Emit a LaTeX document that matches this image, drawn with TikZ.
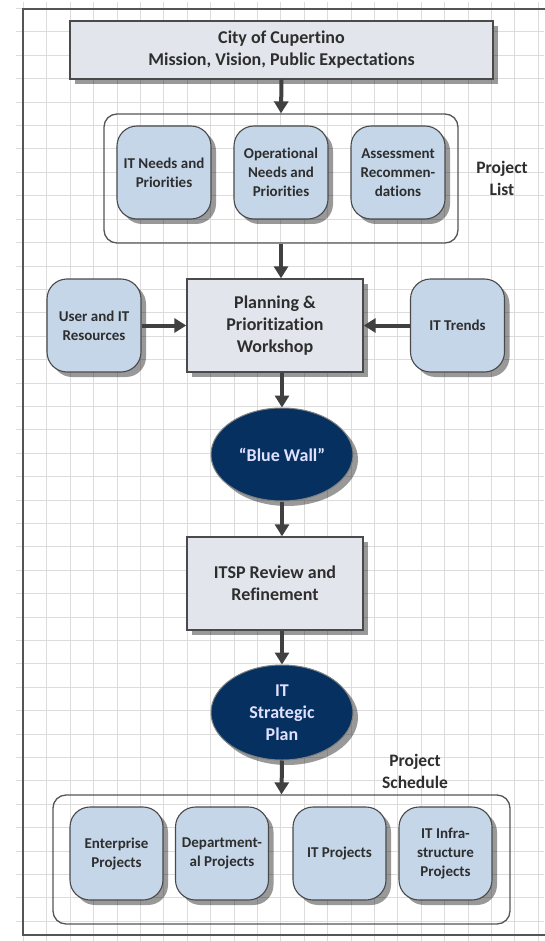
\documentclass[tikz,border=0pt]{standalone}
\usepackage{fontspec}
\setmainfont[Ligatures=NoCommon]{Carlito}
\usetikzlibrary{shapes.geometric,shadows,arrows.meta}

\definecolor{gridgray}{HTML}{DCDCDC}
\definecolor{framegray}{HTML}{555555}
\definecolor{edgegray}{HTML}{4A4A4A}
\definecolor{boxgray}{HTML}{E2E6EC}
\definecolor{paleblue}{HTML}{C4D6E8}
\definecolor{navy}{HTML}{06305F}
\definecolor{inkgray}{HTML}{2E2E2E}
\definecolor{arrowgray}{HTML}{404040}

\tikzset{
  boxshadow/.style={drop shadow={shadow xshift=5pt, shadow yshift=-5pt, fill=black, opacity=0.4}},
  smalltext/.style={font=\fontsize{15}{19}\selectfont\bfseries, text=inkgray},
  bigtext/.style={font=\fontsize{18}{22}\selectfont\bfseries, text=inkgray},
  graybox/.style={rectangle, draw=edgegray, line width=1.4pt, fill=boxgray,
    boxshadow, align=center, inner sep=0pt, bigtext},
  bluebox/.style={rectangle, rounded corners=20pt, draw=edgegray, line width=1.1pt,
    fill=paleblue, boxshadow, align=center, inner sep=0pt,
    minimum width=94pt, minimum height=93pt, smalltext},
  oval/.style={ellipse, draw=edgegray!70, line width=1pt, fill=navy, boxshadow,
    align=center, inner sep=0pt, minimum width=142pt, minimum height=93pt,
    font=\fontsize{18}{22}\selectfont\bfseries, text=white!88!blue},
  group/.style={rectangle, rounded corners=13pt, draw=framegray, line width=1.3pt,
    inner sep=0pt},
  grouplabel/.style={align=center, bigtext, font=\fontsize{17.5}{22}\selectfont\bfseries},
  flow/.style={draw=arrowgray, line width=4pt,
    -{Triangle[width=14pt,length=12pt]}},
}

\begin{document}
\begin{tikzpicture}[x=1pt, y=-1pt]
  \useasboundingbox (0,0) rectangle (544,941);
  \fill[white] (0,0) rectangle (544,941);

  % background grid
  \foreach \k in {1,...,23} {
    \draw[gridgray, line width=1pt] ({23.4*\k},2) -- ({23.4*\k},941);
  }
  \foreach \k in {0,...,39} {
    \draw[gridgray, line width=1pt] (16,{8.6+23.4*\k}) -- (544,{8.6+23.4*\k});
  }

  % page frame
  \draw[framegray, line width=2pt] (560,9) -- (22.5,9) -- (22.5,935) -- (560,935);

  % mission box
  \node[graybox, minimum width=423pt, minimum height=58pt] (mission) at (281.5,50)
    {City of Cupertino\\Mission, Vision, Public Expectations};

  % project list group
  \node[group, minimum width=354pt, minimum height=129pt] (listc) at (281,178.5) {};
  \node[bluebox] (itneeds) at (164,172.5) {IT Needs and\\Priorities};
  \node[bluebox] (opneeds) at (281,172.5) {Operational\\Needs and\\Priorities};
  \node[bluebox] (assess) at (398,172.5) {Assessment\\Recommen-\\dations};
  \node[grouplabel] (listlabel) at (502,178) {Project\\List};

  % workshop row
  \node[graybox, minimum width=176pt, minimum height=93pt] (plan) at (275,325.5)
    {Planning \&\\Prioritization\\Workshop};
  \node[bluebox] (user) at (94,325.5) {User and IT\\Resources};
  \node[bluebox] (trends) at (457.5,325.5) {IT Trends};

  % blue wall
  \node[oval] (wall) at (282,454.5) {“Blue Wall”};

  % review
  \node[graybox, minimum width=176pt, minimum height=93pt] (itsp) at (275,583.5)
    {ITSP Review and\\Refinement};

  % strategic plan
  \node[oval, minimum height=95pt] (plan2) at (282,712.5) {IT\\Strategic\\Plan};

  % project schedule group
  \node[grouplabel] (schedlabel) at (415,771) {Project\\Schedule};
  \node[group, minimum width=457pt, minimum height=129pt] (schedc) at (281.5,859.5) {};
  \node[bluebox, minimum width=93pt] (enter) at (116.5,853.5) {Enterprise\\Projects};
  \node[bluebox, minimum width=93pt] (dept) at (222,853.5) {Department-\\al Projects};
  \node[bluebox, minimum width=93pt] (itproj) at (339.5,853.5) {IT Projects};
  \node[bluebox, minimum width=93pt] (infra) at (445.5,853.5) {IT Infra-\\structure\\Projects};

  % connectors
  \draw[flow] (mission.south) -- (listc.north);
  \draw[flow] (listc.south) -- (listc.south |- plan.north);
  \draw[flow] (user.east) -- (plan.west);
  \draw[flow] (trends.west) -- (plan.east);
  \draw[flow] (wall |- plan.south) -- (wall.north);
  \draw[flow] (wall.south) -- (wall |- itsp.north);
  \draw[flow] (plan2 |- itsp.south) -- (plan2.north);
  \draw[flow] (plan2.south) -- (schedc.north);
\end{tikzpicture}
\end{document}
